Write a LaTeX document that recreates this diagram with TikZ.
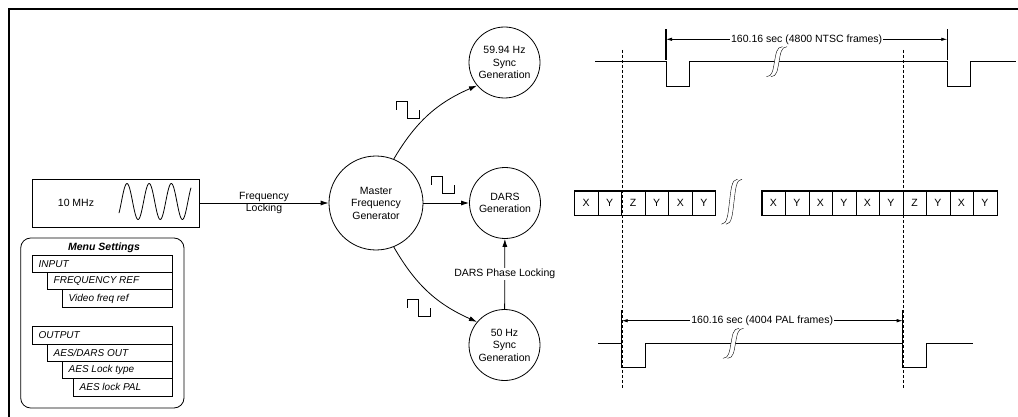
\documentclass[tikz,border=0pt]{standalone}
\usepackage{fontspec}
\setmainfont{Liberation Sans}
\usetikzlibrary{arrows.meta}
\newcommand{\pulse}[2]{\draw (#1,#2+8.3) -- (#1,#2) -- (#1+11.5,#2) -- (#1+11.5,#2+16.6) -- (#1+23.5,#2+16.6) -- (#1+23.5,#2+8.3);}
\newcommand{\entry}[4]{\draw (#2,#3) rectangle (172.3,#3+17.4); \node[anchor=west, inner sep=0pt, font=\itshape] (#1) at (#2+6,#3+8.7) {#4};}
\newcommand{\squiggle}[3]{\begin{scope}[shift={(#1,#2)}, yscale=#3]
  \fill[white] (-8,15) .. controls (-2,15) and (-1.5,8) .. (0,0) .. controls (1.5,-8) and (2,-15) .. (8,-15) -- (12.5,-15) .. controls (6.5,-15) and (6,-8) .. (4.5,0) .. controls (3,8) and (2.5,15) .. (-3.5,15) -- cycle;
  \foreach \dx in {0,4.5}
    \draw[thin, xshift=\dx] (-8,15) .. controls (-2,15) and (-1.5,8) .. (0,0) .. controls (1.5,-8) and (2,-15) .. (8,-15);
\end{scope}}
\tikzset{
  bubble/.style={circle, draw, align=center, inner sep=0pt},
  arr/.style={-{Latex[length=8pt,width=5pt]}},
  dimarr/.style={{Latex[length=6pt,width=3.5pt]}-{Latex[length=6pt,width=3.5pt]}},
  cell/.style={draw, thin, minimum width=23.5pt, minimum height=24pt, inner sep=0pt}
}

\begin{document}
\begin{tikzpicture}[x=1pt, y=-1pt, line width=0.8pt, font=\fontsize{10.5}{12.5}\selectfont]
    \useasboundingbox (0,0) rectangle (1018,417);
    % frame
    \draw[line width=2pt] (9,417) -- (9,9) -- (1018,9);
    % oscillator
    \node[draw, minimum width=167pt, minimum height=48pt, inner sep=0pt] (osc) at (115.5,203) {};
    \node (osctext) at (76,203) {10 MHz};
    \draw plot[domain=-40:1130, samples=120, smooth] ({119+(\x+40)/1170*72}, {201.5-18*sin(\x)});
    % menu
    \node[draw, rounded corners=10pt, minimum width=163.3pt, minimum height=170pt, inner sep=0pt] (menu) at (102.35,323) {};
    \node[font=\fontsize{10.5}{12.5}\selectfont\bfseries\itshape] (menutitle) at (104,247.5) {Menu Settings};
    \entry{input}{32.3}{255}{INPUT}
    \entry{freqref}{47.3}{272.4}{FREQUENCY REF}
    \entry{videoref}{62.3}{289.8}{Video freq ref}
    \entry{output}{32.3}{326.5}{OUTPUT}
    \entry{aesout}{47.3}{343.9}{AES/DARS OUT}
    \entry{locktype}{62.3}{361.3}{AES Lock type}
    \entry{lockpal}{73.3}{378.7}{AES lock PAL}
    % generators
    \node[bubble, minimum size=94pt] (master) at (376,203) {Master\\Frequency\\Generator};
    \node[bubble, minimum size=71pt] (ntsc) at (504.5,62.5) {59.94 Hz\\Sync\\Generation};
    \node[bubble, minimum size=71pt] (dars) at (505,203) {DARS\\Generation};
    \node[bubble, minimum size=71pt] (pal) at (504.5,345) {50 Hz\\Sync\\Generation};
    \draw[arr] (osc) -- (master) node[midway, align=center] {Frequency\\Locking};
    \draw[arr] (master.68) to[bend left=18] (ntsc.220);
    \draw[arr] (master) -- (dars);
    \draw[arr] (master.-68) to[bend right=18] (pal.140);
    \draw[arr] (pal) -- (dars) node[midway, fill=white, inner sep=1pt] {DARS Phase Locking};
    \pulse{396}{101.7}
    \pulse{431}{176.7}
    \pulse{407.3}{299.3}
    % markers
    \draw[thin, densely dashed] (621.7,50) -- (621.7,389);
    \draw[thin, densely dashed] (902.7,50) -- (902.7,389);
    % ntsc sync
    \draw (595,61.7) -- (666,61.7) -- (666,86) -- (689.3,86) -- (689.3,61.7) -- (947.3,61.7) -- (947.3,86) -- (970.7,86) -- (970.7,61.7) -- (1016,61.7);
    \squiggle{774.5}{61.7}{1}
    \draw[line width=1.5pt] (666,29.3) -- (666,60);
    \draw[line width=1.5pt] (947.3,29.3) -- (947.3,60);
    \draw[dimarr] (666,39.3) -- (947.3,39.3) node[midway, fill=white, inner sep=1pt] {160.16 sec (4800 NTSC frames)};
    % frame sequence
    \foreach \lbl [count=\i] in {X,Y,Z,Y,X,Y}
        \node[cell] (l\i) at ({574.3+23.55*(\i-0.5)},203) {\lbl};
    \draw[thick] (l1.north west) rectangle (l6.south east);
    \squiggle{729.5}{201.7}{1.5}
    \foreach \lbl [count=\i] in {X,Y,X,Y,X,Y,Z,Y,X,Y}
        \node[cell] (r\i) at ({761.7+23.5*(\i-0.5)},203) {\lbl};
    \draw[thick] (r1.north west) rectangle (r10.south east);
    % pal sync
    \draw (598.3,343.3) -- (621.7,343.3) -- (621.7,367.3) -- (645,367.3) -- (645,343.3) -- (902.7,343.3) -- (902.7,367.3) -- (926.7,367.3) -- (926.7,343.3) -- (973.3,343.3);
    \squiggle{731}{343.3}{1}
    \draw[line width=1.5pt] (621.7,310) -- (621.7,343.3);
    \draw[line width=1.5pt] (902.7,310) -- (902.7,343.3);
    \draw[dimarr] (621.7,320.7) -- (902.7,320.7) node[midway, fill=white, inner sep=1pt] {160.16 sec (4004 PAL frames)};
\end{tikzpicture}
\end{document}
